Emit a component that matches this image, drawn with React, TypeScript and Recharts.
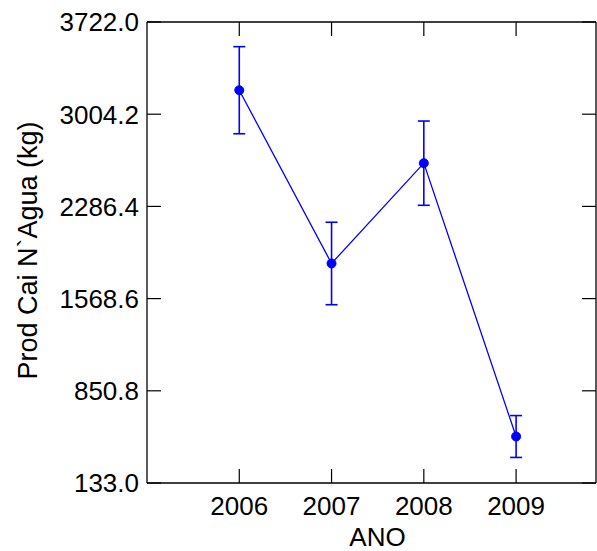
import React from "react";
import { LineChart, Line, XAxis, YAxis, ErrorBar } from "recharts";

const years = [2006, 2007, 2008, 2009];
const prod = [3191, 1842, 2623, 495];
const prodErr = [339, 321, 328, 163];
const yTicks = [133.0, 850.8, 1568.6, 2286.4, 3004.2, 3722.0];
const xTicks = [2006, 2007, 2008, 2009];

const data = years.map((y, i) => ({ year: y, prod: prod[i], err: prodErr[i] }));

const FONT = "'Liberation Sans', Arial, Helvetica, sans-serif";
const FS = 26;
const TL = 14;

const LeftTick = (props: any) => {
  const { x, y, payload } = props;
  return (
    <g>
      <line x1={x} y1={y} x2={x + TL} y2={y} stroke="#000" strokeWidth={1.2} />
      <text x={x - 8} y={y} dy={9.3} textAnchor="end" fontSize={FS} fontFamily={FONT} fill="#000">
        {Number(payload.value).toFixed(1)}
      </text>
    </g>
  );
};

const RightTick = (props: any) => {
  const { x, y } = props;
  return <line x1={x} y1={y} x2={x - TL} y2={y} stroke="#000" strokeWidth={1.2} />;
};

const BottomTick = (props: any) => {
  const { x, y, payload } = props;
  return (
    <g>
      <line x1={x} y1={y} x2={x} y2={y - TL} stroke="#000" strokeWidth={1.2} />
      <text x={x} y={y} dy={32} textAnchor="middle" fontSize={FS} fontFamily={FONT} fill="#000">
        {payload.value}
      </text>
    </g>
  );
};

const TopTick = (props: any) => {
  const { x, y } = props;
  return <line x1={x} y1={y} x2={x} y2={y + TL} stroke="#000" strokeWidth={1.2} />;
};

export default function App() {
  return (
    <div style={{ position: "absolute", left: 0, top: 0, background: "#fff" }}>
      <LineChart
        width={597}
        height={551}
        data={data}
        margin={{ top: 0, right: 0, bottom: 0, left: 0 }}
      >
        <XAxis
          dataKey="year"
          type="number"
          domain={[2005, 2009.866]}
          allowDataOverflow
          ticks={xTicks}
          height={68}
          tickSize={0}
          tickMargin={0}
          tickLine={false}
          tick={<BottomTick />}
          axisLine={{ stroke: "#000", strokeWidth: 1.3 }}
          interval={0}
          label={({ viewBox }: any) => (
            <text
              x={377.5}
              y={viewBox.y + 63}
              textAnchor="middle"
              fontSize={FS}
              fontFamily={FONT}
              fill="#000"
            >
              ANO
            </text>
          )}
        />
        <XAxis
          xAxisId="top"
          orientation="top"
          dataKey="year"
          type="number"
          domain={[2005, 2009.866]}
          allowDataOverflow
          ticks={xTicks}
          height={22}
          tickSize={0}
          tickMargin={0}
          tickLine={false}
          tick={<TopTick />}
          axisLine={{ stroke: "#000", strokeWidth: 1.3 }}
          interval={0}
        />
        <YAxis
          type="number"
          domain={[133, 3722]}
          allowDataOverflow
          ticks={yTicks}
          width={147}
          tickSize={0}
          tickMargin={0}
          tickLine={false}
          tick={<LeftTick />}
          axisLine={{ stroke: "#000", strokeWidth: 1.3 }}
          interval={0}
          label={({ viewBox }: any) => {
            const cx = 28;
            const cy = viewBox.y + viewBox.height / 2 - 2;
            return (
              <text
                x={cx}
                y={cy}
                transform={`rotate(-90, ${cx}, ${cy})`}
                textAnchor="middle"
                dominantBaseline="central"
                fontSize={27}
                fontFamily={FONT}
                fill="#000"
              >
                Prod Cai N`Agua (kg)
              </text>
            );
          }}
        />
        <YAxis
          yAxisId="right"
          orientation="right"
          type="number"
          domain={[133, 3722]}
          allowDataOverflow
          ticks={yTicks}
          width={1}
          tickSize={0}
          tickMargin={0}
          tickLine={false}
          tick={<RightTick />}
          axisLine={{ stroke: "#000", strokeWidth: 1.3 }}
          interval={0}
        />
        <Line
          dataKey="prod"
          stroke="#0000ff"
          strokeWidth={1.3}
          isAnimationActive={false}
          dot={{ r: 4.5, fill: "#0000ff", stroke: "#0000ff", strokeWidth: 1 }}
          activeDot={false}
        >
          <ErrorBar dataKey="err" direction="y" width={6} stroke="#0000ff" strokeWidth={1.6} />
        </Line>
      </LineChart>
    </div>
  );
}
